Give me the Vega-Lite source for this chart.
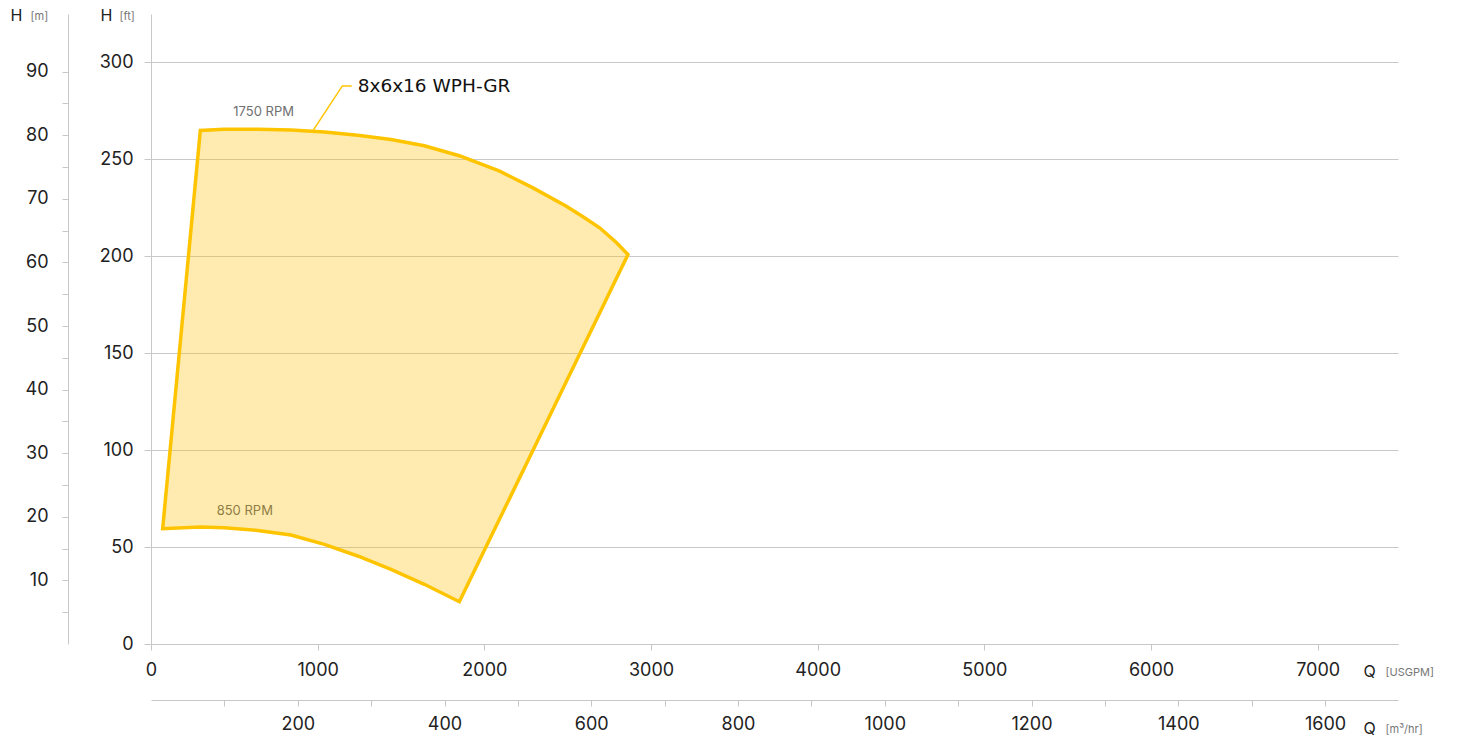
{
  "$schema": "https://vega.github.io/schema/vega-lite/v6.json",
  "width": 1247,
  "height": 630,
  "autosize": {"type": "none"},
  "padding": {"left": 151, "top": 14, "right": 62, "bottom": 98},
  "background": "white",
  "config": {
    "view": {"stroke": null},
    "font": "Inter",
    "axis": {
      "labelFont": "Inter",
      "titleFont": "Inter",
      "labelColor": "#222222",
      "labelFontSize": 18,
      "domainColor": "#c8c8c8",
      "tickColor": "#c8c8c8",
      "labelFlush": false,
      "labelOverlap": false,
      "titleAngle": 0,
      "titleAlign": "left",
      "titleBaseline": "middle",
      "titleFontWeight": "normal"
    }
  },
  "datasets": {
    "envelope": [
      {"q": 70, "top": 59.5, "bottom": 59.5},
      {"q": 296, "top": 264.9, "bottom": 60.3},
      {"q": 440, "top": 265.5, "bottom": 60.0},
      {"q": 640, "top": 265.6, "bottom": 58.6},
      {"q": 840, "top": 265.2, "bottom": 56.2},
      {"q": 1040, "top": 264.1, "bottom": 51.4},
      {"q": 1240, "top": 262.4, "bottom": 45.4},
      {"q": 1440, "top": 260.3, "bottom": 38.5},
      {"q": 1640, "top": 257.0, "bottom": 30.8},
      {"q": 1850, "top": 251.9, "bottom": 21.8},
      {"q": 2092, "top": 243.9, "bottom": 64.6},
      {"q": 2292, "top": 235.3, "bottom": 100.0},
      {"q": 2492, "top": 225.8, "bottom": 135.4},
      {"q": 2592, "top": 220.4, "bottom": 153.1},
      {"q": 2692, "top": 214.7, "bottom": 170.8},
      {"q": 2792, "top": 207.1, "bottom": 188.5},
      {"q": 2862, "top": 200.9, "bottom": 200.9}
    ],
    "leader": [
      {"seq": 1, "q": 968, "h": 264.3},
      {"seq": 2, "q": 1148, "h": 287.9},
      {"seq": 3, "q": 1204, "h": 287.9}
    ],
    "labels": [
      {"label": "8x6x16 WPH-GR", "q": 1240, "h": 287.9},
      {"label": "1750 RPM", "q": 494, "h": 274.7},
      {"label": "850 RPM", "q": 394, "h": 68.8}
    ],
    "metric": [
      {"m3h": 0, "m": 0}
    ],
    "units": [
      {"a": 0, "b": 0}
    ]
  },
  "layer": [
    {
      "resolve": {"scale": {"x": "shared", "y": "shared"}},
      "layer": [
        {
          "data": {"name": "envelope"},
          "mark": {
            "type": "area",
            "orient": "vertical",
            "fill": "#FFC20E",
            "fillOpacity": 0.33,
            "stroke": "#FFC400",
            "strokeWidth": 3.5,
            "strokeJoin": "miter"
          },
          "encoding": {
            "x": {
              "field": "q",
              "type": "quantitative",
              "scale": {"domain": [0, 7482], "nice": false, "zero": false},
              "axis": {
                "orient": "bottom",
                "values": [0, 1000, 2000, 3000, 4000, 5000, 6000, 7000],
                "format": "d",
                "tickSize": 6,
                "labelPadding": 11,
                "grid": false,
                "title": "Q",
                "titleX": 1212,
                "titleY": 27,
                "titleFontSize": 16,
                "titleColor": "#222222"
              }
            },
            "y": {
              "field": "top",
              "type": "quantitative",
              "scale": {"domain": [0, 325], "nice": false},
              "axis": {
                "orient": "left",
                "values": [0, 50, 100, 150, 200, 250, 300],
                "tickSize": 7,
                "labelPadding": 11,
                "grid": true,
                "gridColor": "#c8c8c8",
                "gridWidth": 1,
                "title": "H",
                "titleX": -51,
                "titleY": 1,
                "titleFontSize": 16,
                "titleColor": "#222222"
              }
            },
            "y2": {"field": "bottom"}
          }
        },
        {
          "data": {"name": "leader"},
          "mark": {"type": "line", "stroke": "#FFC400", "strokeWidth": 1.5},
          "encoding": {
            "x": {"field": "q", "type": "quantitative"},
            "y": {"field": "h", "type": "quantitative"},
            "order": {"field": "seq", "type": "quantitative"}
          }
        },
        {
          "data": {"name": "labels"},
          "transform": [{"filter": "datum.label === '8x6x16 WPH-GR'"}],
          "mark": {"type": "text", "align": "left", "baseline": "middle", "fontSize": 18.5, "fontWeight": "normal", "color": "#111111", "font": "DejaVu Sans"},
          "encoding": {
            "x": {"field": "q", "type": "quantitative"},
            "y": {"field": "h", "type": "quantitative"},
            "text": {"field": "label"}
          }
        },
        {
          "data": {"name": "labels"},
          "transform": [{"filter": "datum.label === '1750 RPM'"}],
          "mark": {"type": "text", "align": "left", "baseline": "middle", "fontSize": 13, "color": "#707070", "font": "Inter"},
          "encoding": {
            "x": {"field": "q", "type": "quantitative"},
            "y": {"field": "h", "type": "quantitative"},
            "text": {"field": "label"}
          }
        },
        {
          "data": {"name": "labels"},
          "transform": [{"filter": "datum.label === '850 RPM'"}],
          "mark": {"type": "text", "align": "left", "baseline": "middle", "fontSize": 13, "color": "#8f7d45", "font": "Inter"},
          "encoding": {
            "x": {"field": "q", "type": "quantitative"},
            "y": {"field": "h", "type": "quantitative"},
            "text": {"field": "label"}
          }
        }
      ]
    },
    {
      "data": {"name": "metric"},
      "mark": {"type": "point", "opacity": 0},
      "encoding": {
        "x": {
          "field": "m3h",
          "type": "quantitative",
          "scale": {"domain": [0, 1699.4], "nice": false, "zero": false},
          "axis": {
            "orient": "bottom",
            "offset": 56,
            "values": [100, 200, 300, 400, 500, 600, 700, 800, 900, 1000, 1100, 1200, 1300, 1400, 1500, 1600],
            "format": "d",
            "labelExpr": "datum.value % 200 === 0 ? datum.label : ''",
            "tickSize": 6,
            "labelPadding": 9,
            "grid": false,
            "title": "Q",
            "titleX": 1212,
            "titleY": 28,
            "titleFontSize": 16,
            "titleColor": "#222222"
          }
        },
        "y": {
          "field": "m",
          "type": "quantitative",
          "scale": {"domain": [0, 99.06], "nice": false},
          "axis": {
            "orient": "left",
            "offset": 83,
            "values": [5, 10, 15, 20, 25, 30, 35, 40, 45, 50, 55, 60, 65, 70, 75, 80, 85, 90],
            "labelExpr": "datum.value % 10 === 0 ? datum.label : ''",
            "tickSize": 6,
            "labelPadding": 14,
            "grid": false,
            "title": "H",
            "titleX": -58,
            "titleY": 1,
            "titleFontSize": 16,
            "titleColor": "#222222"
          }
        }
      }
    },
    {
      "data": {"name": "units"},
      "mark": {"type": "point", "opacity": 0},
      "encoding": {
        "x": {
          "field": "a",
          "type": "quantitative",
          "axis": {
            "orient": "bottom",
            "domain": false, "ticks": false, "labels": false, "grid": false,
            "title": "[USGPM]",
            "titleX": 1234,
            "titleY": 28,
            "titleFontSize": 11,
            "titleColor": "#777777"
          }
        },
        "y": {
          "field": "b",
          "type": "quantitative",
          "axis": {
            "orient": "left",
            "domain": false, "ticks": false, "labels": false, "grid": false,
            "title": "[ft]",
            "titleX": -32,
            "titleY": 2,
            "titleFontSize": 11,
            "titleColor": "#777777"
          }
        }
      }
    },
    {
      "data": {"name": "units"},
      "mark": {"type": "point", "opacity": 0},
      "encoding": {
        "x": {
          "field": "a",
          "type": "quantitative",
          "axis": {
            "orient": "bottom",
            "domain": false, "ticks": false, "labels": false, "grid": false,
            "title": "[m³/hr]",
            "titleX": 1234,
            "titleY": 85,
            "titleFontSize": 11,
            "titleColor": "#777777"
          }
        },
        "y": {
          "field": "b",
          "type": "quantitative",
          "axis": {
            "orient": "left",
            "domain": false, "ticks": false, "labels": false, "grid": false,
            "title": "[m]",
            "titleX": -121,
            "titleY": 2,
            "titleFontSize": 11,
            "titleColor": "#777777"
          }
        }
      }
    }
  ],
  "resolve": {
    "scale": {"x": "independent", "y": "independent"},
    "axis": {"x": "independent", "y": "independent"}
  }
}
